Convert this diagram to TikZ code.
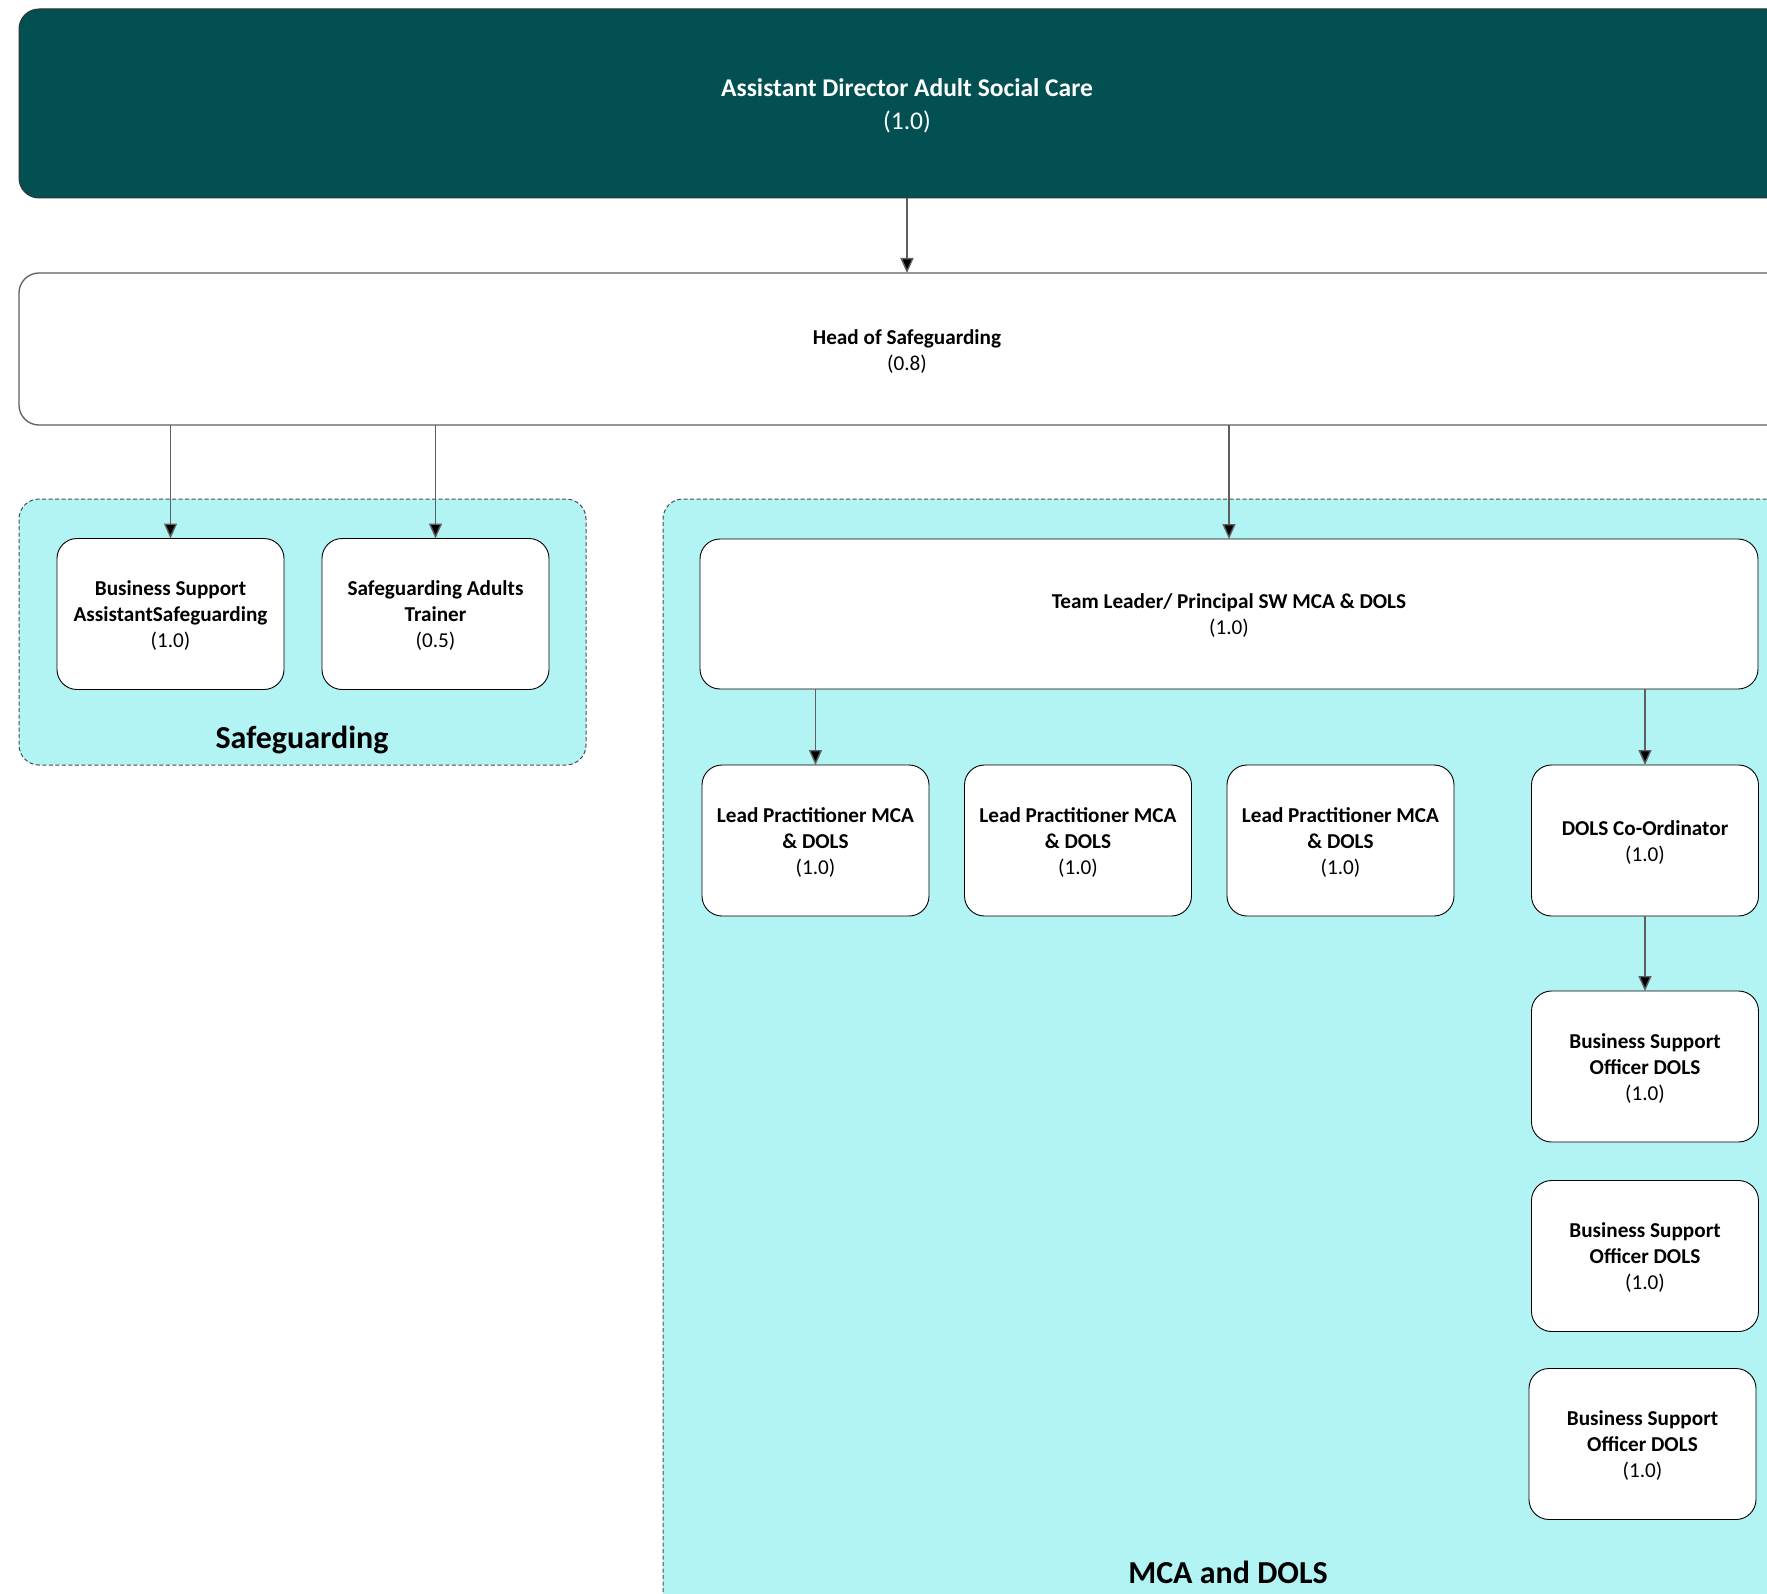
\documentclass[tikz,border=0pt]{standalone}
\usepackage{fontspec}
\setmainfont{Carlito}
\usetikzlibrary{arrows.meta,calc}
\definecolor{tealdark}{RGB}{2,80,81}
\definecolor{cyanfill}{RGB}{178,243,243}
\definecolor{linegray}{RGB}{95,95,95}
\begin{document}
\begin{tikzpicture}[x=1pt,y=-1pt,
  staffbox/.style={draw=black, line width=0.9pt, fill=white, rounded corners=20pt,
    minimum width=227pt, minimum height=151pt, outer sep=0pt, inner sep=0pt},
  widebox/.style={staffbox, minimum width=1058pt, minimum height=150pt},
  boxtext/.style={align=center, inner sep=0pt, font=\fontsize{21.2}{26}\selectfont},
  groupbox/.style={draw=black!70, dash pattern=on 4pt off 2.5pt, line width=1pt, fill=cyanfill,
    rounded corners=20pt, outer sep=0pt, inner sep=0pt},
  grouplabel/.style={font=\fontsize{32}{38}\selectfont\bfseries, inner sep=0pt},
  conn/.style={draw=linegray, line width=1.4pt, -{Triangle[length=15pt,width=13pt,fill=black]}},
]
\useasboundingbox (0,0) rectangle (1767,1594);
\fill[white] (0,0) rectangle (1767,1594);

% top box
\node[draw=black!80, line width=1pt, fill=tealdark, rounded corners=20pt, minimum width=1776pt,
  minimum height=189pt, outer sep=0pt] (ad) at (907,103.5) {};
\node[boxtext, text=white, font=\fontsize{25.5}{33}\selectfont] (adt) at ([yshift=-2.5pt]ad.center)
  {\textbf{Assistant Director Adult Social Care}\\(1.0)};

% head box
\node[draw=linegray, line width=1.3pt, fill=white, rounded corners=20pt, minimum width=1776pt,
  minimum height=152pt, outer sep=0pt] (head) at (907,349) {};
\node[boxtext] (headt) at ([yshift=-2.5pt]head.center) {\textbf{Head of Safeguarding}\\(0.8)};

% groups
\node[groupbox, minimum width=567pt, minimum height=266pt] (sggroup) at (302.5,632) {};
\node[grouplabel] (sglabel) at (302,740) {Safeguarding};
\node[groupbox, minimum width=1130pt, minimum height=1120pt, anchor=north west] (mcagroup) at (663,499) {};
\node[grouplabel] (mcalabel) at (1228,1572) {MCA and DOLS};

% safeguarding boxes
\node[staffbox] (bs) at (170.5,614) {};
\node[boxtext] (bst) at ([yshift=-2pt]bs.center) {\textbf{Business Support}\\\textbf{AssistantSafeguarding}\\(1.0)};
\node[staffbox] (sat) at (435.5,614) {};
\node[boxtext] (satt) at ([yshift=-2pt]sat.center) {\textbf{Safeguarding Adults}\\\textbf{Trainer}\\(0.5)};

% MCA boxes
\node[widebox] (tl) at (1229,614) {};
\node[boxtext] (tlt) at ([yshift=-2pt]tl.center) {\textbf{Team Leader/ Principal SW MCA \& DOLS}\\(1.0)};
\node[staffbox] (lp1) at (815.5,840.5) {};
\node[boxtext] (lp1t) at ([yshift=-2pt]lp1.center) {\textbf{Lead Practitioner MCA}\\\textbf{\& DOLS}\\(1.0)};
\node[staffbox] (lp2) at (1078,840.5) {};
\node[boxtext] (lp2t) at ([yshift=-2pt]lp2.center) {\textbf{Lead Practitioner MCA}\\\textbf{\& DOLS}\\(1.0)};
\node[staffbox] (lp3) at (1340.5,840.5) {};
\node[boxtext] (lp3t) at ([yshift=-2pt]lp3.center) {\textbf{Lead Practitioner MCA}\\\textbf{\& DOLS}\\(1.0)};
\node[staffbox] (dols) at (1645,840.5) {};
\node[boxtext] (dolst) at ([yshift=-2pt]dols.center) {\textbf{DOLS Co-Ordinator}\\(1.0)};
\node[staffbox] (bso1) at (1645,1066.5) {};
\node[boxtext] (bso1t) at ([yshift=-2pt]bso1.center) {\textbf{Business Support}\\\textbf{Officer DOLS}\\(1.0)};
\node[staffbox] (bso2) at (1645,1256) {};
\node[boxtext] (bso2t) at ([yshift=-2pt]bso2.center) {\textbf{Business Support}\\\textbf{Officer DOLS}\\(1.0)};
\node[staffbox] (bso3) at (1642.5,1444) {};
\node[boxtext] (bso3t) at ([yshift=-2pt]bso3.center) {\textbf{Business Support}\\\textbf{Officer DOLS}\\(1.0)};

% connectors
\draw[conn] (ad.south) -- (head.north);
\draw[conn] (head.south -| bs.north) -- (bs.north);
\draw[conn] (head.south -| sat.north) -- (sat.north);
\draw[conn] (head.south -| tl.north) -- (tl.north);
\draw[conn] (tl.south -| lp1.north) -- (lp1.north);
\draw[conn] (tl.south -| dols.north) -- (dols.north);
\draw[conn] (dols.south) -- (bso1.north);
\end{tikzpicture}
\end{document}
